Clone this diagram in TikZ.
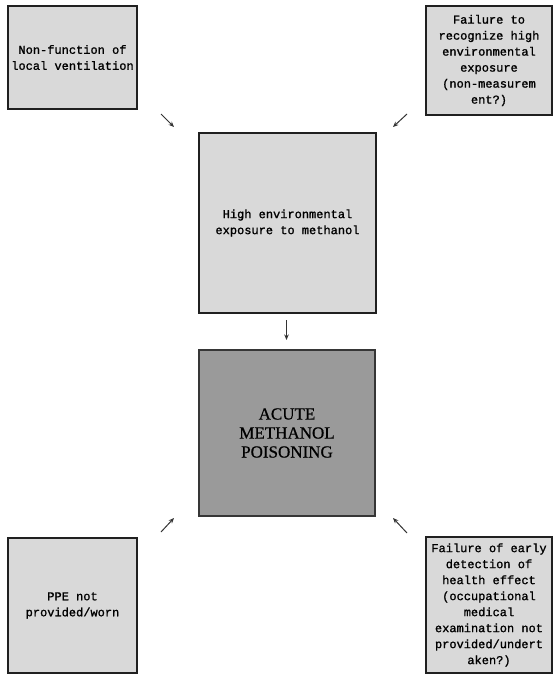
\documentclass[tikz,border=0pt]{standalone}
\usepackage{fontspec}
\setmonofont[FakeBold=1.2]{Liberation Mono}
\newfontfamily\acutefont[FakeBold=0.6]{Liberation Serif}
\usetikzlibrary{arrows.meta}
\definecolor{lightbox}{HTML}{D9D9D9}
\definecolor{darkbox}{HTML}{9A9A9A}
\definecolor{edge}{HTML}{202020}
\begin{document}
\begin{tikzpicture}[x=1pt,y=-1pt,
  lbox/.style={draw=edge, line width=1.2pt, fill=lightbox, inner sep=0pt,
    align=center, font=\ttfamily\fontsize{12}{16}\selectfont},
  dbox/.style={draw=edge!90, line width=1.2pt, fill=darkbox, inner sep=0pt,
    align=center, font=\acutefont\fontsize{17}{19}\selectfont},
  arr/.style={-{Stealth[length=5.5pt,width=4.5pt]}, line width=1pt, draw=black!80}]
\useasboundingbox (0,0) rectangle (556,675);
\fill[white] (0,0) rectangle (556,675);
\node[lbox, minimum width=129pt, minimum height=103pt] (tl) at (72.5,57.5)
  {Non-function of\\local ventilation};
\node[lbox, minimum width=126pt, minimum height=109pt] (tr) at (489,60.5)
  {Failure to\\recognize high\\environmental\\exposure\\(non-measurem\\ent?)};
\node[lbox, minimum width=177pt, minimum height=180pt] (mid) at (287.5,223)
  {High environmental\\exposure to methanol};
\node[dbox, minimum width=176pt, minimum height=166pt] (acute) at (287,433)
  {ACUTE\\METHANOL\\POISONING};
\node[lbox, minimum width=129pt, minimum height=135pt] (bl) at (72.5,605.5)
  {PPE not\\provided/worn};
\node[lbox, minimum width=126pt, minimum height=136pt] (br) at (489,605)
  {Failure of early\\detection of\\health effect\\(occupational\\medical\\examination not\\provided/undert\\aken?)};
\coordinate (a1s) at (161,114); \coordinate (a1e) at (174,127);
\coordinate (a2s) at (407,114); \coordinate (a2e) at (393,127);
\coordinate (a3s) at (286.5,320); \coordinate (a3e) at (286.5,340);
\coordinate (a4s) at (161,532); \coordinate (a4e) at (174,518);
\coordinate (a5s) at (407,533); \coordinate (a5e) at (393,518);
\draw[arr] (a1s) -- (a1e);
\draw[arr] (a2s) -- (a2e);
\draw[arr] (a3s) -- (a3e);
\draw[arr] (a4s) -- (a4e);
\draw[arr] (a5s) -- (a5e);
\end{tikzpicture}
\end{document}
